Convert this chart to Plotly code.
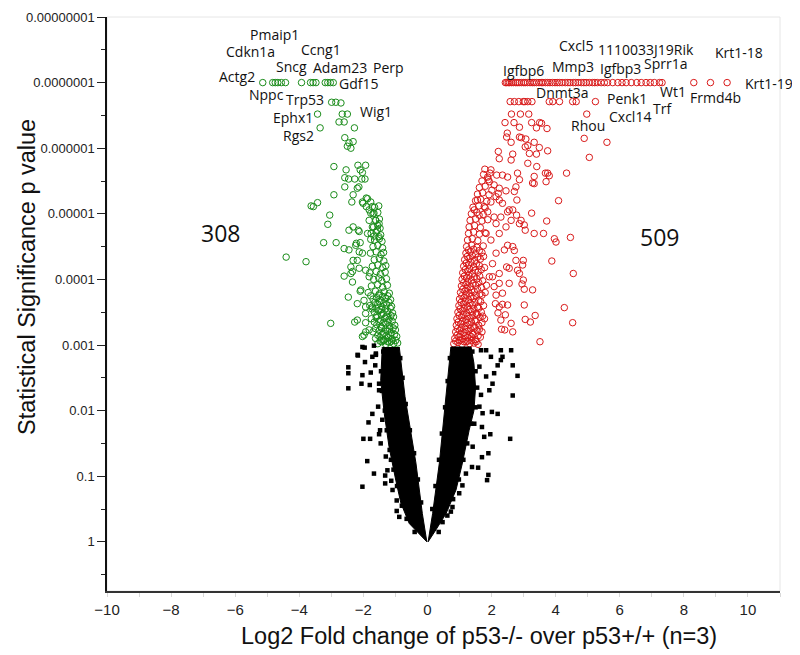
import plotly.graph_objects as go

# ---------------- data (x = log2 fold change, y = -log10 p) ----------------
x_tick_vals = [-10, -8, -6, -4, -2, 0, 2, 4, 6, 8, 10]
x_minor_vals = [-9, -7, -5, -3, -1, 1, 3, 5, 7, 9, 11]
y_tick_vals = [0, 1, 2, 3, 4, 5, 6, 7, 8]
y_tick_text = ["1", "0.1", "0.01", "0.001", "0.0001", "0.00001",
               "0.000001", "0.0000001", "0.00000001"]
y_minor_vals = [-0.5, 0.5, 1.5, 2.5, 3.5, 4.5, 5.5, 6.5, 7.5]

# dense non-significant cloud (outline of the packed region of black squares)
core_left_x = [-1.41, -1.46, -1.35, -1.20, -0.99, -0.83, -0.57, -0.10, -0.02, -0.16, -0.36, -0.70, -0.88]
core_left_v = [2.97, 2.46, 1.96, 1.45, 0.94, 0.59, 0.28, 0.03, 0.00, 0.43, 1.20, 2.21, 2.97]
core_right_x = [0.02, 0.16, 0.37, 0.58, 0.73, 1.36, 1.45, 1.50, 1.45, 1.30, 1.09, 0.89, 0.58, 0.26, 0.02]
core_right_v = [0.00, 0.43, 1.20, 2.21, 2.97, 2.97, 2.72, 2.35, 2.00, 1.70, 1.20, 0.79, 0.43, 0.18, 0.00]

# individual non-significant genes (black squares)
ns_x = [-2.47, -2.47, -2.47, -2.17, -1.96, -1.95, -2.03, -2.06, -1.80, -1.77, -1.63, -1.51, -1.51,
        -1.72, -1.84, -2.00, -1.79, -1.51, -1.46, -1.88, -1.67, -2.03, -1.32, -1.32, -1.13, -0.96,
        -0.96, -1.30, -1.14, -1.54, -1.41, -1.61, -1.48, -1.25, -1.09, -0.88, -2.18, -2.03, -1.67,
        -1.61, -1.72, -1.38, -1.45, -1.42, -1.33, -1.27, -1.18, -1.06, -0.95, -0.80, -0.65, -0.40,
        -0.85, -0.78, -0.68, -0.55, -0.42, -0.30, -0.20,
        2.29, 2.66, 2.81, 2.66, 2.29, 2.19, 2.03, 1.93, 2.01, 2.19, 1.70, 1.77, 1.96, 2.58, 1.90,
        1.70, 1.58, 1.90, 1.86, 1.39, 1.09, 0.99, 0.78, 0.73, 0.47, 1.62, 1.83, 1.67, 1.62, 1.46,
        1.41, 1.98, 1.83, 1.67, 2.08, 1.72, 1.20, 2.34, 2.61, 1.40, 1.50, 1.55, 1.50, 1.36, 1.24,
        1.12, 0.98, 0.80, 0.62, 0.35, 0.70, 0.63, 0.55, 0.45, 0.36, 0.25, 0.15]
ns_v = [2.66, 2.57, 2.34, 2.84, 2.96, 2.74, 2.54, 2.41, 2.39, 2.58, 2.69, 2.41, 2.31,
        1.95, 1.82, 1.57, 1.57, 1.64, 1.50, 1.23, 1.04, 0.84, 1.01, 0.89, 0.93, 0.63,
        0.47, 1.30, 1.25, 2.06, 1.86, 2.85, 1.70, 1.09, 0.79, 0.38, 2.85, 2.97, 2.99,
        2.87, 2.82, 2.90, 2.60, 2.30, 2.00, 1.70, 1.40, 1.10, 0.85, 0.55, 0.35, 0.15,
        2.80, 2.50, 2.10, 1.70, 1.35, 0.95, 0.60,
        2.92, 2.69, 2.53, 2.23, 2.77, 2.69, 2.41, 2.31, 1.98, 1.95, 1.75, 1.60, 1.64, 1.57, 1.35,
        1.29, 1.13, 1.02, 0.94, 1.14, 0.86, 0.74, 0.53, 0.46, 0.30, 2.67, 2.52, 2.24, 2.06, 1.80,
        1.45, 2.82, 2.92, 2.92, 2.57, 1.96, 1.04, 2.82, 2.92, 2.90, 2.60, 2.35, 2.05, 1.80, 1.50,
        1.25, 0.95, 0.65, 0.40, 0.15, 2.80, 2.45, 2.05, 1.65, 1.25, 0.85, 0.50]

# down-regulated genes (green) - top row at the p-value floor
green_top_x = [-5.14, -4.83, -4.75, -4.67, -4.56, -4.43, -3.93, -3.65, -3.57, -3.48, -3.19, -3.11, -3.03, -2.94]
green_top_v = [7.00, 7.00, 7.00, 7.00, 7.00, 7.00, 7.00, 7.00, 7.00, 7.00, 7.00, 7.00, 7.00, 7.00]

# down-regulated genes (green) - scattered
green_sc_x = [-2.99, -2.86, -2.70, -3.43, -2.66, -2.50, -2.76, -2.60, -3.35, -2.28, -2.58, -2.45, -2.32,
              -2.50, -2.39, -2.92, -2.17, -2.10, -2.03, -2.54, -2.58, -2.46, -2.27, -2.05, -1.95, -2.58,
              -2.14, -1.93, -2.19,
              -2.92, -2.32, -1.91, -3.63, -3.56, -3.43, -2.36, -2.01, -1.91, -1.72, -1.77, -3.05, -3.11,
              -1.82, -1.61, -1.51, -1.72, -1.56, -1.87, -1.67, -1.77, -1.51, -2.32, -2.45, -2.13, -2.22,
              -2.10, -3.24, -2.85, -4.41, -3.79, -1.87, -1.77, -1.82, -1.67, -2.03, -2.16, -2.60, -2.45,
              -2.24, -2.13,
              -2.32, -2.39, -2.60, -2.34, -2.08, -3.02, -2.03, -1.82, -2.19, -1.93, -1.72, -1.98, -2.47,
              -2.27, -1.93, -2.10, -2.34, -2.13, -1.98, -1.93, -2.39, -2.19, -2.03, -1.93, -1.82, -2.19,
              -1.93]
green_sc_v = [6.70, 6.70, 6.69, 6.52, 6.52, 6.52, 6.40, 6.40, 6.31, 6.31, 6.16, 6.08, 6.10,
              6.03, 6.00, 5.72, 5.74, 5.67, 5.63, 5.67, 5.55, 5.53, 5.53, 5.53, 5.53, 5.41,
              5.41, 5.74, 5.39,
              5.29, 5.29, 5.24, 5.12, 5.11, 5.17, 5.18, 5.16, 5.11, 5.11, 5.01, 4.98, 4.84,
              4.90, 4.90, 4.85, 4.80, 4.75, 4.70, 4.66, 4.61, 4.65, 4.80, 4.75, 4.73, 4.55,
              4.56, 4.56, 4.56, 4.34, 4.27, 5.23, 5.18, 5.06, 5.01, 5.18, 4.75, 4.47, 4.45,
              4.52, 4.42,
              4.29, 4.09, 4.05, 3.96, 3.84, 3.33, 3.13, 3.23, 3.38, 3.48, 3.58, 3.68, 3.73,
              3.35, 3.34, 3.82, 4.12, 4.17, 3.15, 3.20, 4.19, 4.29, 4.40, 4.14, 4.04, 3.63,
              3.58]

# down-regulated genes (green) - packed band just above p = 0.001
green_band_x = [-1.55, -1.42, -1.30, -1.18, -1.05, -0.93,
                -1.62, -1.48, -1.36, -1.22, -1.10, -0.96,
                -1.70, -1.50, -1.38, -1.25, -1.13, -1.00,
                -1.58, -1.45, -1.30, -1.18, -1.02,
                -1.75, -1.60, -1.47, -1.33, -1.20, -1.06,
                -1.66, -1.52, -1.38, -1.24, -1.09,
                -1.80, -1.55, -1.42, -1.28, -1.12,
                -1.70, -1.58, -1.45, -1.30, -1.15,
                -1.85, -1.62, -1.50, -1.35, -1.19,
                -1.75, -1.55, -1.40, -1.25,
                -1.68, -1.52, -1.43, -1.28,
                -1.80, -1.60, -1.47, -1.32,
                -1.72, -1.55, -1.40, -1.30,
                -1.66, -1.50, -1.36,
                -1.78, -1.60, -1.45, -1.37,
                -1.70, -1.55, -1.40,
                -1.65, -1.50, -1.42,
                -1.76, -1.60, -1.46,
                -1.68, -1.55, -1.48,
                -1.62, -1.50,
                -1.70, -1.55,
                -1.65, -1.52,
                -1.48, -1.36, -1.24, -1.12, -0.99,
                -1.55, -1.42, -1.29, -1.16, -1.03,
                -1.62, -1.44, -1.31, -1.19, -1.07,
                -1.66, -1.52, -1.38, -1.24, -1.10,
                -1.58, -1.44, -1.28, -1.14,
                -1.73, -1.60, -1.45, -1.31, -1.16,
                -1.64, -1.50, -1.36, -1.20,
                -1.77, -1.52, -1.40, -1.24]
green_band_v = [3.02, 3.05, 3.01, 3.04, 3.02, 3.03,
                3.10, 3.12, 3.08, 3.11, 3.09, 3.13,
                3.20, 3.22, 3.18, 3.21, 3.19, 3.23,
                3.31, 3.28, 3.32, 3.29, 3.30,
                3.40, 3.42, 3.38, 3.41, 3.39, 3.43,
                3.50, 3.52, 3.48, 3.51, 3.49,
                3.60, 3.62, 3.58, 3.61, 3.59,
                3.70, 3.72, 3.68, 3.71, 3.69,
                3.80, 3.82, 3.78, 3.81, 3.79,
                3.90, 3.92, 3.88, 3.91,
                4.00, 4.02, 3.98, 4.01,
                4.10, 4.12, 4.08, 4.11,
                4.20, 4.22, 4.18, 4.21,
                4.30, 4.32, 4.28,
                4.40, 4.42, 4.38, 4.41,
                4.50, 4.52, 4.48,
                4.60, 4.62, 4.58,
                4.70, 4.72, 4.68,
                4.80, 4.82, 4.78,
                4.90, 4.92,
                5.00, 5.02,
                5.10, 5.12,
                3.06, 3.07, 3.05, 3.06, 3.07,
                3.15, 3.16, 3.14, 3.15, 3.16,
                3.25, 3.26, 3.24, 3.25, 3.26,
                3.35, 3.36, 3.34, 3.35, 3.36,
                3.45, 3.46, 3.44, 3.45,
                3.55, 3.56, 3.54, 3.55, 3.56,
                3.65, 3.66, 3.64, 3.65,
                3.75, 3.76, 3.74, 3.75]

# up-regulated genes (red) - top row at the p-value floor
red_top_x = [2.43, 2.47, 2.52, 2.56, 2.62, 2.68, 2.75, 2.80, 2.86, 2.93,
             3.00, 3.05, 3.12, 3.20, 3.27, 3.33, 3.40, 3.48, 3.55, 3.60, 3.68, 3.75, 3.82, 3.90, 3.98,
             4.05, 4.12, 4.20, 4.30, 4.38, 4.45, 4.55, 4.62, 4.70, 4.80, 4.88, 4.95,
             5.05, 5.15, 5.22, 5.30, 5.42, 5.52, 5.62, 5.78, 5.94,
             6.07, 6.20, 6.36, 6.53, 6.67, 6.82, 6.95,
             7.08, 7.24, 7.32, 8.31, 8.83, 9.35]
red_top_v = [7.00, 7.00, 7.00, 7.00, 7.00, 7.00, 7.00, 7.00, 7.00, 7.00,
             7.00, 7.00, 7.00, 7.00, 7.00, 7.00, 7.00, 7.00, 7.00, 7.00, 7.00, 7.00, 7.00, 7.00, 7.00,
             7.00, 7.00, 7.00, 7.00, 7.00, 7.00, 7.00, 7.00, 7.00, 7.00, 7.00, 7.00,
             7.00, 7.00, 7.00, 7.00, 7.00, 7.00, 7.00, 7.00, 7.00,
             7.00, 7.00, 7.00, 7.00, 7.00, 7.00, 7.00,
             7.00, 7.00, 7.00, 7.00, 7.00, 7.00]

# up-regulated genes (red) - scattered
red_sc_x = [2.58, 2.71, 2.85, 2.99, 3.04, 3.13, 3.26, 3.80, 3.91, 4.12, 4.53, 4.64, 5.24,
            2.62, 2.90, 3.16, 4.97, 2.42, 2.70, 3.25, 3.50, 3.56, 3.40, 3.73, 2.87,
            2.49, 2.47, 2.87, 2.93, 3.07, 4.89, 2.61, 3.33, 5.60, 3.13, 3.05, 3.49, 3.75, 2.21,
            3.18, 3.40, 2.66, 5.05, 2.24, 2.61, 3.13, 3.41,
            1.79, 1.98, 2.81, 3.75, 4.34, 3.68, 2.16, 2.34, 3.80, 3.33, 1.88, 2.50, 2.87, 1.93,
            3.70, 3.28, 3.33, 2.08, 2.76, 2.24, 2.01, 2.45, 2.71, 2.21, 2.14,
            2.24, 1.56, 2.79, 4.09, 1.98, 2.34, 1.77, 1.46, 2.55, 2.66, 1.88, 2.50, 3.25, 1.61,
            2.78, 2.29, 2.08, 2.61, 2.92, 3.72, 2.14, 2.87, 3.02, 2.45, 3.05, 3.33, 3.62, 2.24,
            1.83, 4.46, 3.96, 4.01, 1.98, 2.50, 2.66, 2.40, 2.71, 2.14,
            2.76, 2.99, 3.88, 2.03, 2.97, 2.47, 2.55, 2.81, 2.87, 4.55, 2.24, 2.03, 1.93, 2.99,
            2.24, 2.55, 2.95, 1.84, 2.08, 3.02, 3.28, 2.34, 2.14, 2.12, 2.34, 3.02, 2.50, 2.24,
            4.27, 2.20, 2.43, 3.36, 3.05, 2.29, 3.21, 4.53, 2.61, 2.31, 2.41, 2.66, 3.51]
red_sc_v = [6.71, 6.71, 6.71, 6.71, 6.71, 6.71, 6.71, 6.71, 6.71, 6.71, 6.71, 6.71, 6.71,
            6.52, 6.52, 6.52, 6.52, 6.39, 6.39, 6.39, 6.39, 6.38, 6.31, 6.30, 6.32,
            6.23, 6.17, 6.17, 6.16, 6.14, 6.15, 6.09, 6.09, 6.09, 6.04, 6.02, 6.01, 5.96, 5.95,
            5.92, 5.91, 5.91, 5.86, 5.84, 5.82, 5.77, 5.72,
            5.68, 5.67, 5.62, 5.62, 5.62, 5.62, 5.59, 5.59, 5.58, 5.57, 5.56, 5.56, 5.52, 5.49,
            5.49, 5.47, 5.46, 5.44, 5.41, 5.39, 5.36, 5.35, 5.34, 5.31, 5.26,
            5.21, 5.21, 5.21, 5.20, 5.18, 5.16, 5.11, 5.06, 5.06, 5.06, 5.03, 5.03, 5.01, 4.98,
            4.98, 4.95, 4.95, 4.90, 4.90, 4.89, 4.85, 4.85, 4.83, 4.80, 4.75, 4.70, 4.70, 4.70,
            4.70, 4.64, 4.62, 4.57, 4.60, 4.52, 4.50, 4.45, 4.44, 4.40,
            4.29, 4.29, 4.28, 4.24, 4.22, 4.19, 4.17, 4.14, 4.09, 4.09, 4.09, 4.04, 4.04, 3.99,
            3.94, 3.94, 3.93, 3.91, 3.89, 3.85, 3.84, 3.79, 3.76, 3.63, 3.62, 3.61, 3.61, 3.58,
            3.57, 3.49, 3.46, 3.45, 3.39, 3.38, 3.35, 3.34, 3.33, 3.24, 3.23, 3.20, 3.05]

# up-regulated genes (red) - packed band just above p = 0.001
red_band_x = [0.82, 0.95, 1.08, 1.20, 1.32, 1.45, 1.58,
              0.85, 0.98, 1.10, 1.24, 1.36, 1.50, 1.65,
              0.88, 1.00, 1.14, 1.27, 1.40, 1.55, 1.70,
              0.90, 1.04, 1.17, 1.30, 1.44, 1.60,
              0.92, 1.06, 1.20, 1.33, 1.48, 1.64, 1.78,
              0.95, 1.08, 1.22, 1.36, 1.52, 1.68,
              0.98, 1.12, 1.25, 1.40, 1.56, 1.75,
              1.00, 1.14, 1.28, 1.43, 1.60,
              1.03, 1.17, 1.30, 1.46, 1.64, 1.80,
              1.06, 1.20, 1.34, 1.50, 1.68,
              1.08, 1.22, 1.37, 1.54, 1.72,
              1.10, 1.25, 1.40, 1.58,
              1.13, 1.28, 1.44, 1.62, 1.78,
              1.16, 1.30, 1.47, 1.65,
              1.20, 1.34, 1.50, 1.70,
              1.22, 1.38, 1.54, 1.74,
              1.25, 1.40, 1.57,
              1.28, 1.44, 1.62, 1.80,
              1.30, 1.47, 1.65,
              1.33, 1.50, 1.70, 1.88,
              1.37, 1.54, 1.74,
              1.42, 1.60, 1.80,
              1.50, 1.66, 1.85,
              1.56, 1.72, 1.92,
              1.62, 1.80,
              1.70, 1.90,
              1.75, 1.95,
              0.88, 1.01, 1.14, 1.26, 1.38, 1.52,
              0.92, 1.04, 1.18, 1.30, 1.43, 1.58,
              0.94, 1.07, 1.20, 1.34, 1.48, 1.62,
              0.96, 1.10, 1.24, 1.37, 1.52, 1.70,
              0.99, 1.13, 1.26, 1.41, 1.56, 1.72,
              1.02, 1.15, 1.30, 1.45, 1.60,
              1.05, 1.19, 1.33, 1.48, 1.66,
              1.07, 1.21, 1.36, 1.52, 1.70,
              1.10, 1.24, 1.38, 1.56,
              1.13, 1.27, 1.42, 1.60,
              1.15, 1.30, 1.46, 1.63,
              1.18, 1.32, 1.49, 1.68,
              1.21, 1.36, 1.53,
              1.24, 1.40, 1.57, 1.75,
              1.28, 1.44, 1.62]
red_band_v = [3.02, 3.04, 3.01, 3.05, 3.02, 3.03, 3.01,
              3.10, 3.12, 3.09, 3.11, 3.13, 3.08, 3.12,
              3.20, 3.22, 3.19, 3.21, 3.18, 3.22, 3.20,
              3.30, 3.32, 3.29, 3.31, 3.28, 3.30,
              3.40, 3.42, 3.39, 3.41, 3.38, 3.42, 3.40,
              3.50, 3.52, 3.49, 3.51, 3.48, 3.50,
              3.60, 3.62, 3.59, 3.61, 3.58, 3.60,
              3.70, 3.72, 3.69, 3.71, 3.68,
              3.80, 3.82, 3.79, 3.81, 3.78, 3.80,
              3.90, 3.92, 3.89, 3.91, 3.88,
              4.00, 4.02, 3.99, 4.01, 3.98,
              4.10, 4.12, 4.09, 4.11,
              4.20, 4.22, 4.19, 4.21, 4.18,
              4.30, 4.32, 4.29, 4.31,
              4.40, 4.42, 4.39, 4.41,
              4.50, 4.52, 4.49, 4.51,
              4.60, 4.62, 4.59,
              4.70, 4.72, 4.69, 4.71,
              4.80, 4.82, 4.79,
              4.90, 4.92, 4.89, 4.91,
              5.00, 5.02, 4.99,
              5.10, 5.12, 5.09,
              5.20, 5.22, 5.19,
              5.30, 5.32, 5.29,
              5.40, 5.42,
              5.50, 5.52,
              5.60, 5.62,
              3.06, 3.07, 3.05, 3.06, 3.07, 3.05,
              3.15, 3.16, 3.14, 3.15, 3.16, 3.14,
              3.25, 3.26, 3.24, 3.25, 3.26, 3.24,
              3.35, 3.36, 3.34, 3.35, 3.36, 3.34,
              3.45, 3.46, 3.44, 3.45, 3.46, 3.44,
              3.55, 3.56, 3.54, 3.55, 3.56,
              3.65, 3.66, 3.64, 3.65, 3.66,
              3.75, 3.76, 3.74, 3.75, 3.76,
              3.85, 3.86, 3.84, 3.85,
              3.95, 3.96, 3.94, 3.95,
              4.05, 4.06, 4.04, 4.05,
              4.15, 4.16, 4.14, 4.15,
              4.25, 4.26, 4.24,
              4.35, 4.36, 4.34, 4.35,
              4.45, 4.46, 4.44]

# gene labels
gene_names = ["Pmaip1", "Cdkn1a", "Ccng1", "Sncg", "Adam23", "Perp", "Actg2", "Gdf15", "Nppc",
              "Trp53", "Ephx1", "Wig1", "Rgs2",
              "Cxcl5", "1110033J19Rik", "Krt1-18", "Igfbp6", "Mmp3", "Igfbp3", "Sprr1a", "Krt1-19",
              "Dnmt3a", "Wt1", "Frmd4b", "Penk1", "Trf", "Cxcl14", "Rhou"]
gene_label_x = [-4.78, -5.52, -3.32, -4.25, -2.72, -1.23, -5.94, -2.15, -5.03,
                -3.83, -4.21, -1.60, -4.02,
                4.63, 6.83, 9.72, 3.01, 4.55, 6.01, 7.43, 10.65,
                4.19, 7.67, 9.00, 6.23, 7.34, 6.31, 5.00]
gene_label_v = [7.73, 7.47, 7.51, 7.24, 7.23, 7.23, 7.09, 6.98, 6.82,
                6.74, 6.47, 6.56, 6.20,
                7.56, 7.51, 7.46, 7.19, 7.25, 7.22, 7.29, 6.98,
                6.85, 6.86, 6.78, 6.76, 6.61, 6.48, 6.35]

count_text = ["308", "509"]
count_x = [-6.45, 7.24]
count_v = [4.70, 4.64]

# ---------------- figure ----------------
GREEN = "#1a8c1a"
RED = "#d91a1a"

fig = go.Figure()

circle_style = dict(symbol="circle-open", size=6.5)
fig.add_trace(go.Scatter(x=green_band_x, y=green_band_v, mode="markers",
                         marker=dict(color=GREEN, line=dict(color=GREEN, width=1), **circle_style)))
fig.add_trace(go.Scatter(x=green_sc_x, y=green_sc_v, mode="markers",
                         marker=dict(color=GREEN, line=dict(color=GREEN, width=1), **circle_style)))
fig.add_trace(go.Scatter(x=green_top_x, y=green_top_v, mode="markers",
                         marker=dict(color=GREEN, line=dict(color=GREEN, width=1), **circle_style)))
fig.add_trace(go.Scatter(x=red_band_x, y=red_band_v, mode="markers",
                         marker=dict(color=RED, line=dict(color=RED, width=1), **circle_style)))
fig.add_trace(go.Scatter(x=red_sc_x, y=red_sc_v, mode="markers",
                         marker=dict(color=RED, line=dict(color=RED, width=1), **circle_style)))
fig.add_trace(go.Scatter(x=red_top_x, y=red_top_v, mode="markers",
                         marker=dict(color=RED, line=dict(color=RED, width=1), **circle_style)))

for cx, cv in ((core_left_x, core_left_v), (core_right_x, core_right_v)):
    fig.add_trace(go.Scatter(x=cx, y=cv, mode="lines", fill="toself", fillcolor="black",
                             line=dict(color="black", width=1), hoverinfo="skip"))
fig.add_trace(go.Scatter(x=ns_x, y=ns_v, mode="markers",
                         marker=dict(symbol="square", size=4.5, color="black")))

annotations = []
for name, gx, gv in zip(gene_names, gene_label_x, gene_label_v):
    annotations.append(dict(x=gx, y=gv, xref="x", yref="y", text=name, showarrow=False,
                            xanchor="center", yanchor="middle",
                            font=dict(family="Open Sans", size=14, color="#111111")))
for t, cx, cv in zip(count_text, count_x, count_v):
    annotations.append(dict(x=cx, y=cv, xref="x", yref="y", text=t, showarrow=False,
                            xanchor="center", yanchor="middle",
                            font=dict(family="Open Sans", size=23, color="#111111")))
annotations.append(dict(x=0.5527, y=-0.078, xref="paper", yref="paper",
                        text="Log2 Fold change of p53-/- over p53+/+ (n=3)", showarrow=False,
                        xanchor="center", yanchor="middle",
                        font=dict(family="Liberation Sans, Arial", size=23.5, color="#111111")))
annotations.append(dict(x=-0.119, y=0.547, xref="paper", yref="paper", textangle=-90,
                        text="Statistical Significance p value", showarrow=False,
                        xanchor="center", yanchor="middle",
                        font=dict(family="Liberation Sans, Arial", size=23.5, color="#111111")))

# the page body adds an 8 px offset, so the figure is 8 px smaller with matching margins
fig.update_layout(
    width=792, height=647,
    margin=dict(l=99, r=20, t=9, b=64, autoexpand=False),
    paper_bgcolor="white", plot_bgcolor="white",
    showlegend=False,
    annotations=annotations,
    shapes=[dict(type="rect", xref="paper", yref="paper", x0=0, x1=1, y0=0, y1=1,
                 line=dict(color="#e6e6e6", width=1), layer="below")],
)
fig.update_xaxes(
    range=[-10, 11], tickmode="array", tickvals=x_tick_vals, automargin=False,
    ticks="outside", ticklen=4, tickcolor="#d8d8d8", tickwidth=1,
    minor=dict(tickmode="array", tickvals=x_minor_vals, ticks="outside", ticklen=4,
               tickcolor="#d8d8d8", tickwidth=1),
    showline=True, linecolor="#333333", linewidth=1.5,
    showgrid=False, zeroline=False,
    tickfont=dict(family="Liberation Sans, Arial", size=15, color="#222222"),
)
fig.update_yaxes(
    range=[-0.75, 8], tickmode="array", tickvals=y_tick_vals, ticktext=y_tick_text,
    automargin=False,
    ticks="outside", ticklen=8, tickcolor="#222222", tickwidth=1,
    minor=dict(tickmode="array", tickvals=y_minor_vals, ticks="outside", ticklen=4,
               tickcolor="#222222", tickwidth=1),
    showline=True, linecolor="#111111", linewidth=1.5,
    showgrid=False, zeroline=False,
    tickfont=dict(family="Liberation Sans, Arial", size=13, color="#222222"),
)

fig.write_html("out.html")
